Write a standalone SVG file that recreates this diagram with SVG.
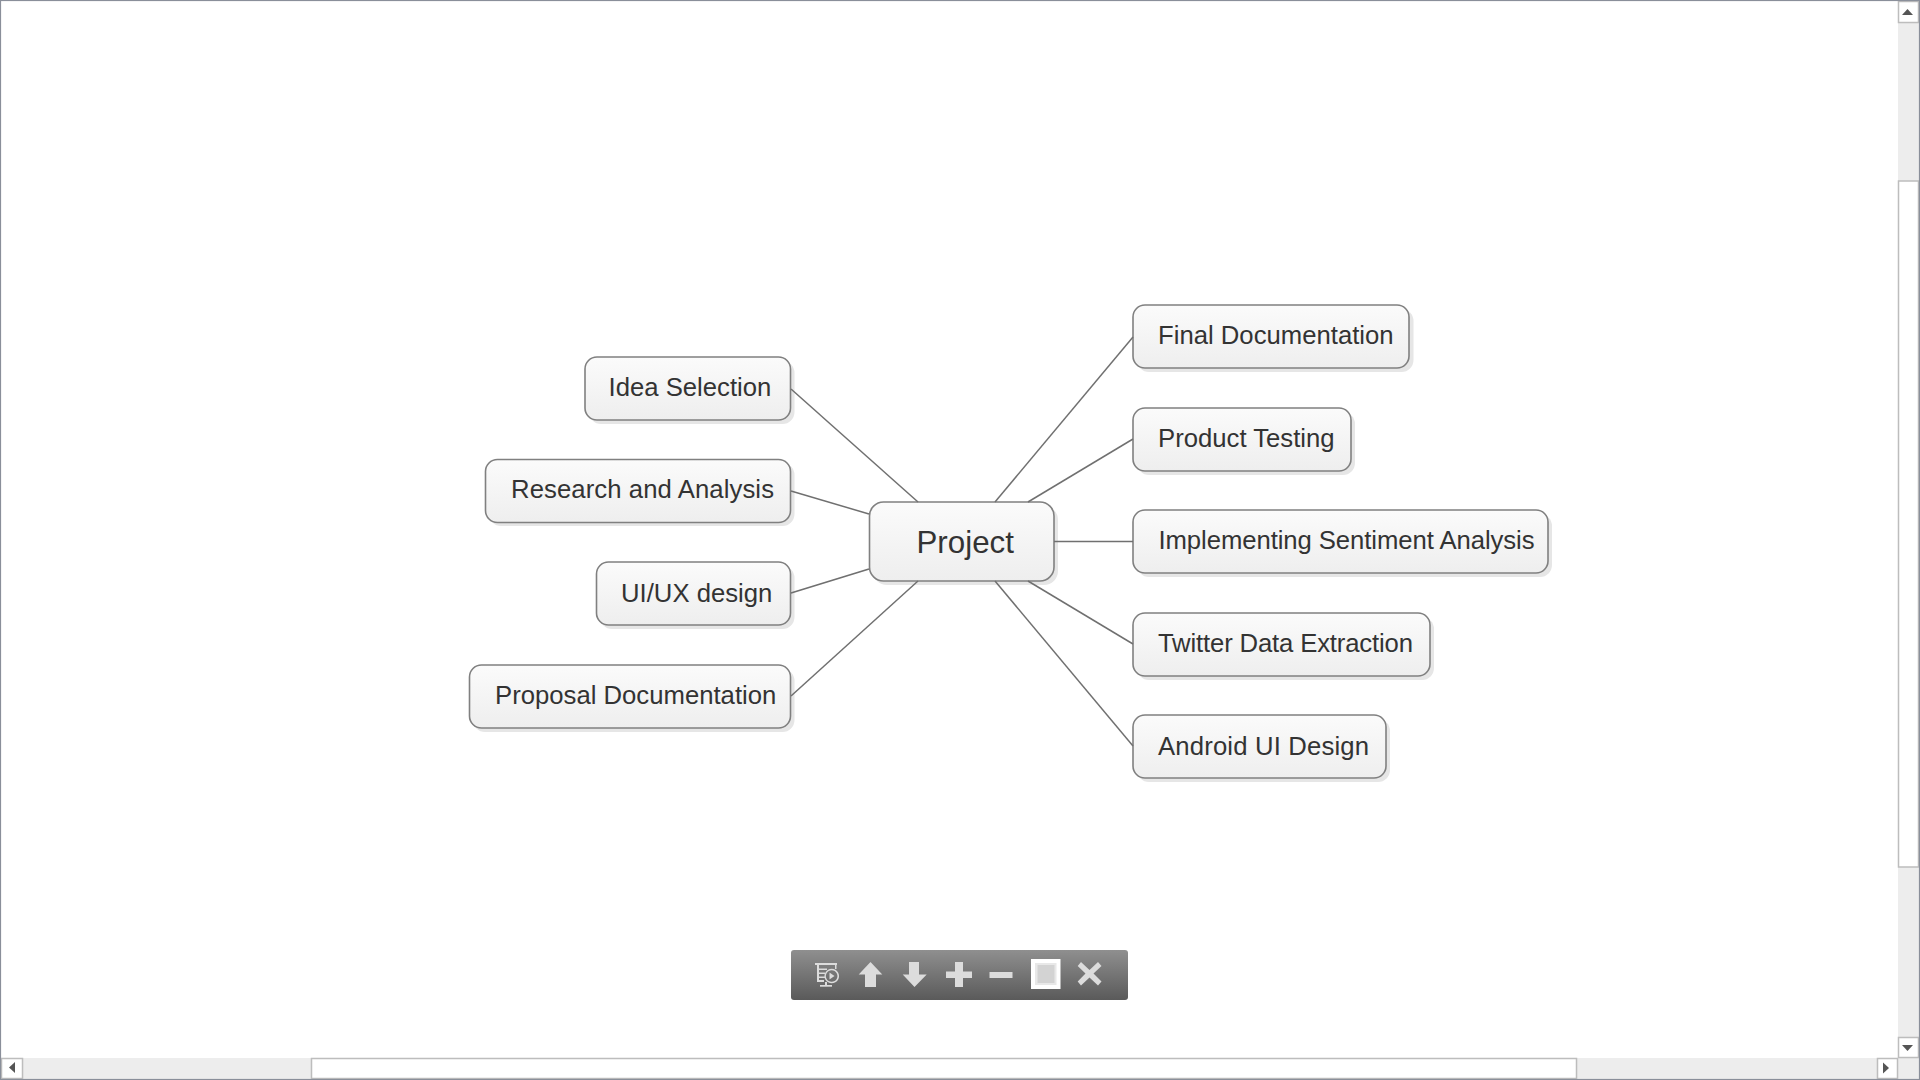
<svg xmlns="http://www.w3.org/2000/svg" width="1920" height="1080" viewBox="0 0 1920 1080">
<defs>
<linearGradient id="g" x1="0" y1="0" x2="0" y2="1"><stop offset="0" stop-color="#fbfbfb"/><stop offset="1" stop-color="#eeeeee"/></linearGradient>
<linearGradient id="tb" x1="0" y1="0" x2="0" y2="1"><stop offset="0" stop-color="#8f8f8f"/><stop offset="1" stop-color="#5a5a5a"/></linearGradient>
</defs>
<style>
.b{fill:url(#g);stroke:#808080;stroke-width:1.6}
.s{fill:#e6e6e6}
.t{font-family:"Liberation Sans",Arial,sans-serif;font-size:25.7px;fill:#333333}
.c{stroke:#707070;stroke-width:1.5;fill:none}
.i{fill:#dcdcdc}
.sb{fill:#ededed}
.w{fill:#ffffff;stroke:#bdbdbd;stroke-width:1.5}
.a{fill:#555555}
</style>
<rect width="1920" height="1080" fill="#ffffff"/>
<g id="n-project"><rect class="s" x="873" y="506" width="185" height="79" rx="14"/><rect class="b" x="869.500" y="502" width="184.500" height="79" rx="14"/><text class="t" style="font-size:31.300px" x="916.500" y="553">Project</text></g>
<g id="n-idea"><rect class="s" x="589" y="361" width="205.500" height="63" rx="12"/><rect class="b" x="585" y="357" width="205.500" height="63" rx="12"/><text class="t" x="608.500" y="395.500">Idea Selection</text></g>
<g id="n-research"><rect class="s" x="489" y="463" width="305.500" height="63" rx="12"/><rect class="b" x="485.500" y="459.500" width="305" height="63" rx="12"/><text class="t" x="511" y="498" textLength="263">Research and Analysis</text></g>
<g id="n-uiux"><rect class="s" x="600" y="566" width="194.500" height="63" rx="12"/><rect class="b" x="596.500" y="562" width="194" height="63" rx="12"/><text class="t" x="621" y="601.500">UI/UX design</text></g>
<g id="n-proposal"><rect class="s" x="473" y="669" width="321.500" height="63" rx="12"/><rect class="b" x="469.500" y="665" width="321" height="63" rx="12"/><text class="t" x="495" y="703.500">Proposal Documentation</text></g>
<g id="n-final"><rect class="s" x="1137" y="309" width="276.500" height="63" rx="12"/><rect class="b" x="1133" y="305" width="276" height="63" rx="12"/><text class="t" x="1158" y="344">Final Documentation</text></g>
<g id="n-testing"><rect class="s" x="1137" y="412" width="218" height="63" rx="12"/><rect class="b" x="1133" y="408" width="218" height="63" rx="12"/><text class="t" x="1158" y="446.500">Product Testing</text></g>
<g id="n-sentiment"><rect class="s" x="1137" y="514" width="415" height="63" rx="12"/><rect class="b" x="1133" y="510" width="415" height="63" rx="12"/><text class="t" x="1158.500" y="549" textLength="376">Implementing Sentiment Analysis</text></g>
<g id="n-twitter"><rect class="s" x="1137" y="617" width="297" height="63" rx="12"/><rect class="b" x="1133" y="613" width="297" height="63" rx="12"/><text class="t" x="1158" y="652" textLength="255">Twitter Data Extraction</text></g>
<g id="n-android"><rect class="s" x="1137" y="719" width="253" height="63" rx="12"/><rect class="b" x="1133" y="715" width="253" height="63" rx="12"/><text class="t" x="1158" y="755" textLength="211">Android UI Design</text></g>
<g id="connectors" class="c">
<path d="M791 389L918 502"/><path d="M791 491L869 514"/><path d="M791 593L869 569"/><path d="M791 696L918 581"/>
<path d="M995 502L1133 337"/><path d="M1028 502L1133 439"/><path d="M1054 541.500H1133"/><path d="M1028 581L1133 644"/><path d="M995 581L1133 746"/>
</g>
<g id="toolbar">
<rect x="791" y="950" width="337" height="50" rx="3" fill="url(#tb)"/>
<g class="i">
<rect x="815" y="963" width="22" height="2"/><path d="M817 965H819V980H824V982H817Z"/><rect x="835" y="965" width="1.500" height="4"/>
<rect x="819" y="968.500" width="8" height="1.500"/><rect x="819" y="972.500" width="6" height="1.500"/><rect x="819" y="976.500" width="6" height="1.500"/>
<path fill-rule="evenodd" d="M831.700 968.700a7.300 7.300 0 1 0 .1 0ZM831.700 970.200a5.800 5.800 0 1 1 -.1 0Z"/><path d="M829.500 972.500L834.500 976L829.500 979.500Z"/>
<rect x="825" y="982" width="2" height="3"/><rect x="820" y="985" width="12" height="1.700"/>
<path d="M870.500 962L882.300 974.500H876V987H865V974.500H858.700Z"/>
<path d="M909 962H919V974.500H926.700L914.500 987L902.700 974.500H909Z"/>
<path d="M955 962H963V971.500H972V978H963V987H955V978H946V971.500H955Z"/>
<rect x="989.500" y="972" width="23" height="6"/>
<rect x="1031" y="959" width="29.500" height="30" fill="#ffffff"/><rect x="1035" y="963" width="21.500" height="22" fill="#e8e8e8"/><rect x="1037.500" y="965" width="17" height="18" fill="#d3d3d3"/>
<path d="M1081 962L1089.500 970L1098 962L1101.500 966L1093.500 973.500L1101.500 981.500L1098 985.500L1089.500 977.500L1081 985.500L1077.700 981.500L1085.500 973.500L1077.700 966Z"/>
</g>
</g>
<g id="scrollbars">
<rect x="1898" y="1" width="21" height="1057" class="sb"/>
<rect x="1" y="1058" width="1918" height="21" class="sb"/>
<rect x="1898.500" y="1.500" width="20" height="21" class="w"/>
<rect x="1898.500" y="181" width="20" height="686" class="w"/>
<rect x="1898.500" y="1037.500" width="20" height="20" class="w"/>
<rect x="1.500" y="1058.500" width="21" height="20" class="w"/>
<rect x="311.500" y="1058.500" width="1265" height="20" class="w"/>
<rect x="1877.500" y="1058.500" width="20" height="20" class="w"/>
<path class="a" d="M1902 15L1907.500 9L1913 15Z"/><path class="a" d="M1902 1045H1913L1907.500 1051Z"/><path class="a" d="M15 1062V1073L9 1067.500Z"/><path class="a" d="M1883 1062.500V1073.500L1889 1068Z"/>
</g>
<rect x="0.500" y="0.500" width="1919" height="1079" fill="none" stroke="#8a8f9a" stroke-width="1.200"/>
</svg>
